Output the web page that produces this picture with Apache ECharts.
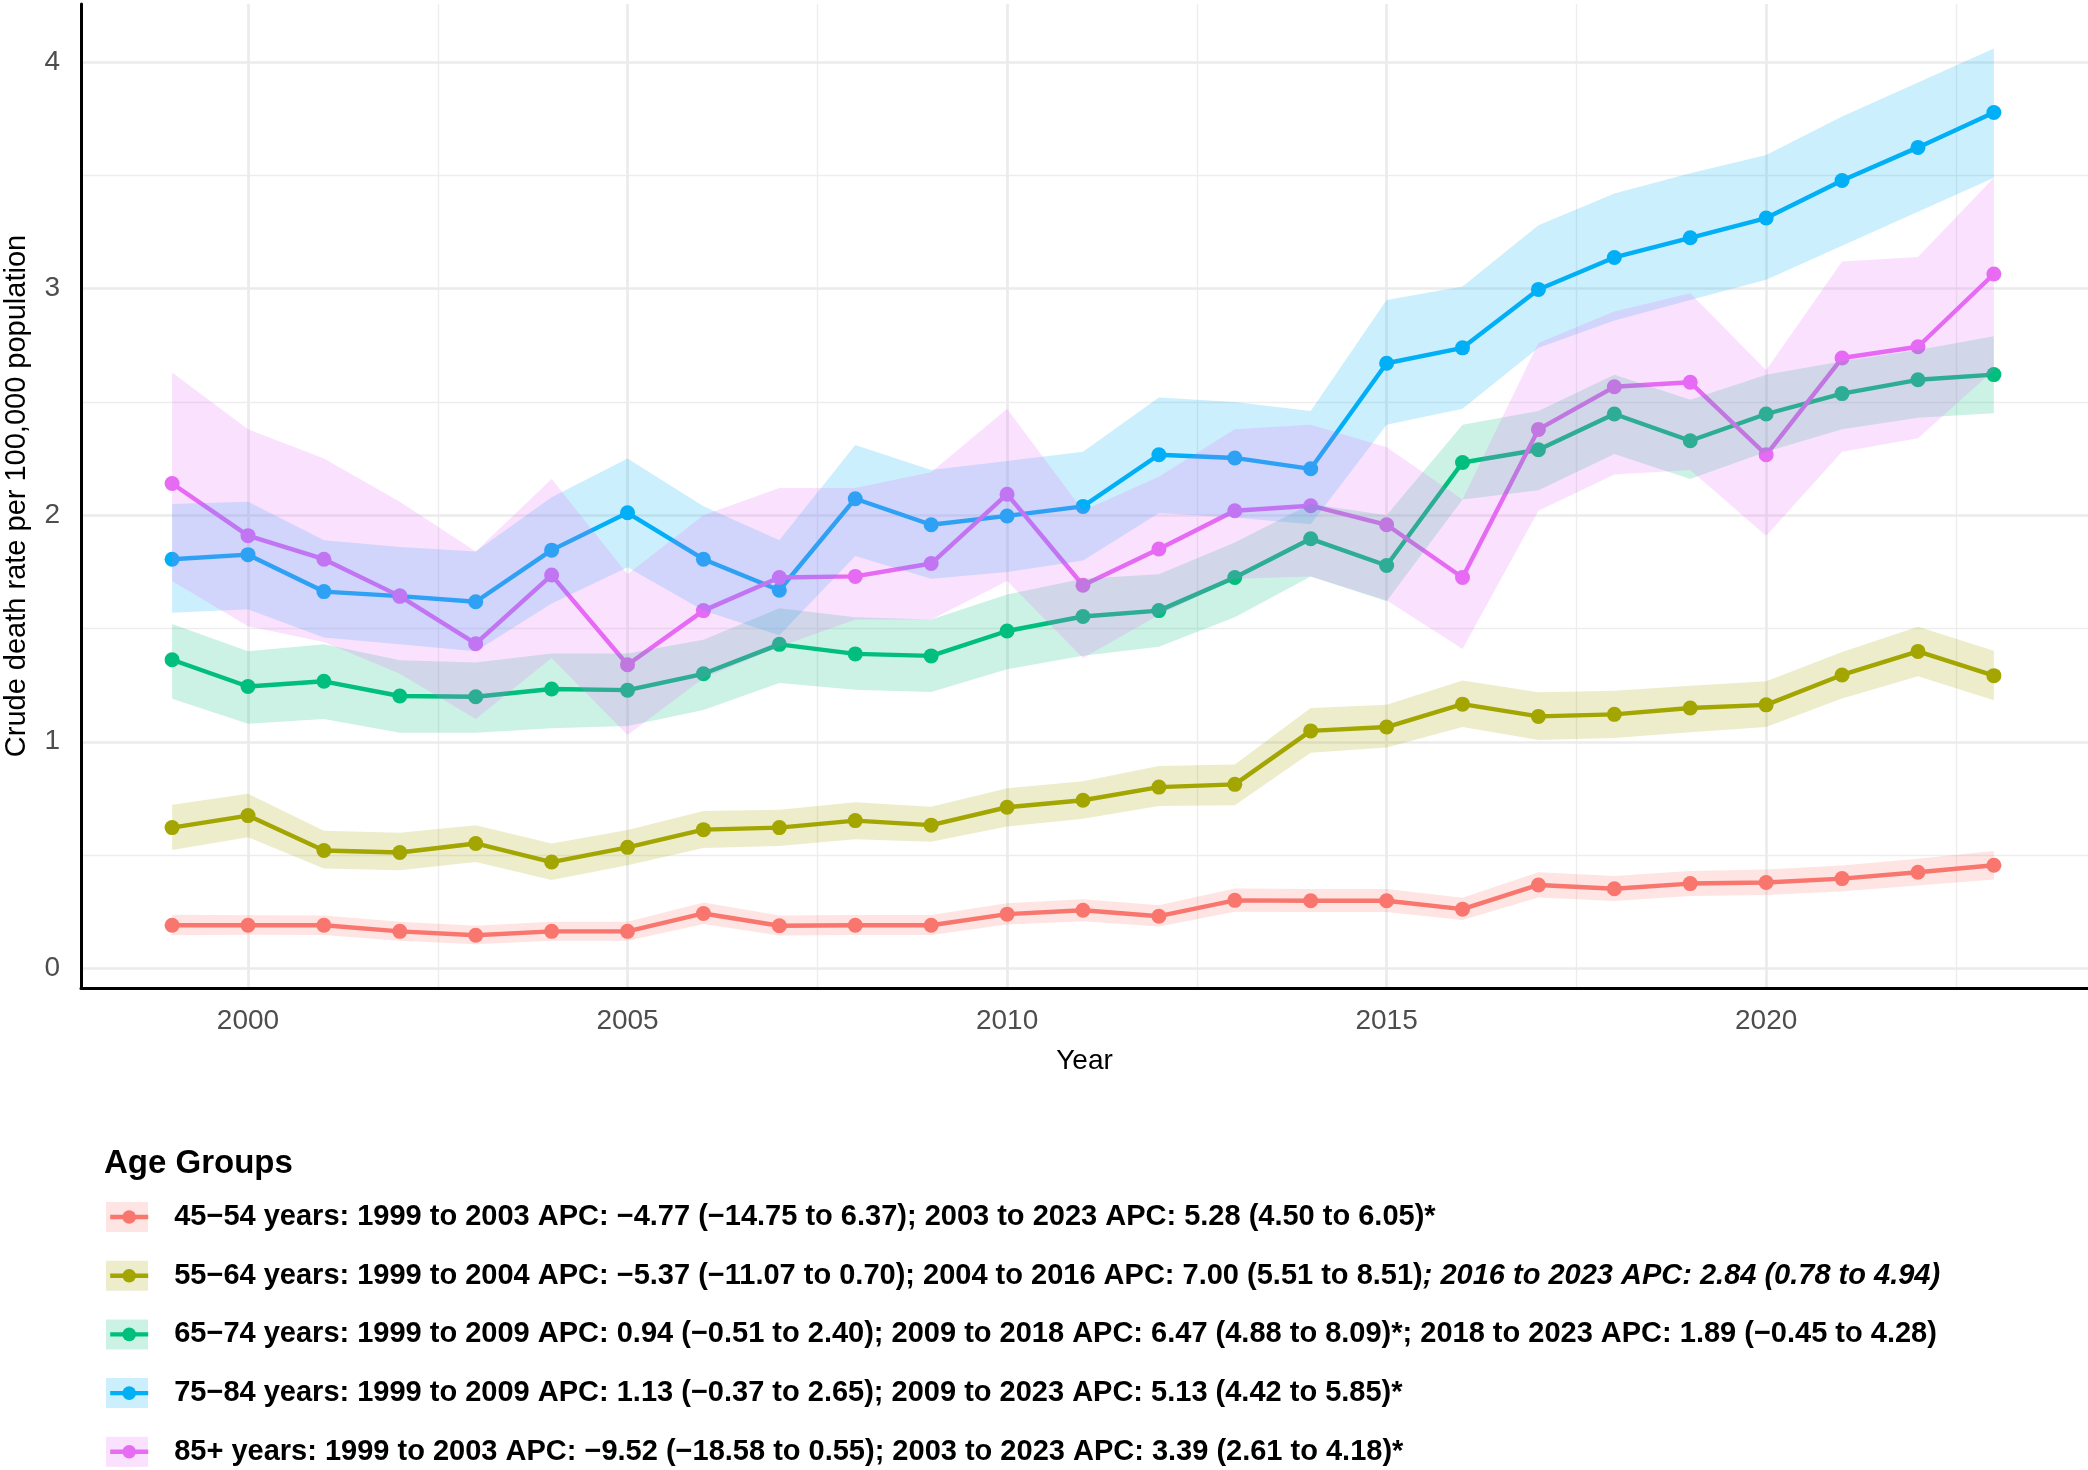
<!DOCTYPE html>
<html>
<head>
<meta charset="utf-8">
<script src="https://cdn.jsdelivr.net/npm/echarts@6/dist/echarts.min.js"></script>
<style>
html,body{margin:0;padding:0;background:#ffffff;}
#chart{width:2088px;height:1470px;}
</style>
</head>
<body>
<div id="chart"></div>
<script>
// ---------------- data ----------------
const years = [1999,2000,2001,2002,2003,2004,2005,2006,2007,2008,2009,2010,2011,2012,2013,2014,2015,2016,2017,2018,2019,2020,2021,2022,2023];

const ageGroups = ['45−54 years','55−64 years','65−74 years','75−84 years','85+ years'];

const legendLabels = [
  '45−54 years: 1999 to 2003 APC: −4.77 (−14.75 to 6.37); 2003 to 2023 APC: 5.28 (4.50 to 6.05)*',
  '55−64 years: 1999 to 2004 APC: −5.37 (−11.07 to 0.70); 2004 to 2016 APC: 7.00 (5.51 to 8.51)',
  '65−74 years: 1999 to 2009 APC: 0.94 (−0.51 to 2.40); 2009 to 2018 APC: 6.47 (4.88 to 8.09)*; 2018 to 2023 APC: 1.89 (−0.45 to 4.28)',
  '75−84 years: 1999 to 2009 APC: 1.13 (−0.37 to 2.65); 2009 to 2023 APC: 5.13 (4.42 to 5.85)*',
  '85+ years: 1999 to 2003 APC: −9.52 (−18.58 to 0.55); 2003 to 2023 APC: 3.39 (2.61 to 4.18)*'
];
const legendItalic = ['', '; 2016 to 2023 APC: 2.84 (0.78 to 4.94)', '', '', ''];

const rate45 = [0.19,0.19,0.19,0.163,0.146,0.163,0.163,0.242,0.188,0.19,0.19,0.239,0.256,0.23,0.30,0.298,0.298,0.261,0.368,0.351,0.374,0.379,0.396,0.424,0.455];
const lo45   = [0.146,0.148,0.147,0.122,0.106,0.122,0.122,0.196,0.145,0.147,0.147,0.193,0.208,0.184,0.250,0.248,0.248,0.213,0.313,0.297,0.319,0.324,0.340,0.366,0.392];
const hi45   = [0.236,0.234,0.233,0.206,0.188,0.206,0.206,0.290,0.233,0.235,0.235,0.287,0.305,0.278,0.352,0.350,0.350,0.311,0.424,0.407,0.430,0.436,0.454,0.484,0.518];

const rate55 = [0.621,0.674,0.52,0.511,0.551,0.469,0.534,0.612,0.621,0.652,0.632,0.711,0.742,0.80,0.812,1.048,1.065,1.166,1.112,1.121,1.149,1.163,1.295,1.399,1.292];
const lo55   = [0.522,0.579,0.441,0.433,0.469,0.390,0.455,0.531,0.540,0.570,0.559,0.626,0.660,0.716,0.720,0.952,0.975,1.065,1.008,1.017,1.042,1.065,1.191,1.289,1.183];
const hi55   = [0.722,0.770,0.607,0.598,0.632,0.551,0.610,0.694,0.700,0.733,0.713,0.795,0.826,0.893,0.900,1.149,1.163,1.270,1.219,1.225,1.247,1.267,1.396,1.508,1.402];

const rate65 = [1.362,1.244,1.267,1.202,1.199,1.233,1.228,1.30,1.43,1.388,1.379,1.489,1.553,1.579,1.725,1.896,1.778,2.233,2.289,2.447,2.329,2.447,2.537,2.598,2.621];
const lo65   = [1.19,1.08,1.10,1.04,1.04,1.06,1.07,1.14,1.26,1.23,1.22,1.32,1.38,1.42,1.55,1.73,1.62,2.07,2.11,2.27,2.16,2.28,2.38,2.43,2.45];
const hi65   = [1.52,1.40,1.43,1.36,1.35,1.39,1.39,1.45,1.59,1.55,1.54,1.65,1.72,1.74,1.88,2.05,2.00,2.40,2.46,2.62,2.51,2.62,2.68,2.73,2.79];

const rate75 = [1.806,1.826,1.663,1.643,1.618,1.846,2.011,1.806,1.669,2.073,1.958,1.997,2.039,2.267,2.253,2.205,2.671,2.739,2.997,3.138,3.225,3.312,3.478,3.624,3.778];
const lo75   = [1.57,1.585,1.46,1.43,1.40,1.61,1.77,1.58,1.47,1.82,1.72,1.75,1.80,2.01,1.99,1.96,2.40,2.47,2.74,2.86,2.95,3.04,3.19,3.34,3.49];
const hi75   = [2.05,2.06,1.89,1.86,1.84,2.08,2.25,2.04,1.89,2.31,2.20,2.24,2.28,2.52,2.50,2.46,2.95,3.01,3.28,3.42,3.51,3.59,3.76,3.91,4.06];

const rate85 = [2.14,1.91,1.806,1.643,1.433,1.736,1.34,1.579,1.725,1.73,1.787,2.093,1.691,1.851,2.02,2.042,1.958,1.725,2.379,2.567,2.587,2.267,2.694,2.744,3.065];
const lo85   = [1.71,1.51,1.44,1.30,1.10,1.37,1.03,1.28,1.42,1.54,1.54,1.71,1.37,1.56,1.72,1.73,1.625,1.41,2.02,2.18,2.20,1.91,2.28,2.34,2.64];
const hi85   = [2.63,2.38,2.25,2.06,1.84,2.16,1.74,2.00,2.12,2.12,2.19,2.47,2.02,2.17,2.38,2.40,2.30,2.07,2.76,2.90,2.98,2.64,3.12,3.14,3.49];

const xTicks = [2000,2005,2010,2015,2020];
const xMinorTicks = [2002.5,2007.5,2012.5,2017.5,2022.5];
const yTicks = [0,1,2,3,4];
const yMinorTicks = [0.5,1.5,2.5,3.5];

// ---------------- styling ----------------
const FONT = '"Liberation Sans", Arial, sans-serif';
const colors = ['#F8766D','#A3A500','#00BF7D','#00B0F6','#E76BF3'];
const fills  = ['rgba(248,118,109,0.2)','rgba(163,165,0,0.2)','rgba(0,191,125,0.2)','rgba(0,176,246,0.2)','rgba(231,107,243,0.2)'];
const rates = [rate45, rate55, rate65, rate75, rate85];
const los = [lo45, lo55, lo65, lo75, lo85];
const his = [hi45, hi55, hi65, hi75, hi85];

const X_MIN = 1997.8, X_MAX = 2024.24, Y_MIN = -0.087, Y_MAX = 4.257;
const LEG_TOP = 1202, LEG_STEP = 58.7;

const chart = echarts.init(document.getElementById('chart'), null, {renderer: 'canvas'});

const lineSeries = ageGroups.map((name, g) => ({
  type: 'line',
  name: name,
  xAxisIndex: 0, yAxisIndex: 0,
  data: years.map((y, i) => [y, rates[g][i]]),
  color: colors[g],
  lineStyle: {width: 4.4, color: colors[g]},
  itemStyle: {color: colors[g], borderWidth: 0},
  symbol: 'circle',
  symbolSize: 15,
  showSymbol: true,
  z: 2,
  silent: true
}));

const ribbonSeries = ageGroups.map((name, g) => ({
  type: 'custom',
  name: name + ' CI',
  coordinateSystem: 'cartesian2d',
  xAxisIndex: 0, yAxisIndex: 0,
  data: years.map((y, i) => [y, los[g][i], his[g][i]]),
  encode: {x: 0, y: [1, 2]},
  z: 3,
  silent: true,
  renderItem: function (params, api) {
    if (params.dataIndex !== 0) return null;
    const pts = [];
    for (let i = 0; i < years.length; i++) pts.push(api.coord([years[i], his[g][i]]));
    for (let i = years.length - 1; i >= 0; i--) pts.push(api.coord([years[i], los[g][i]]));
    return {type: 'polygon', shape: {points: pts}, style: {fill: fills[g], stroke: null}};
  }
}));

const keyRects = ageGroups.map((name, g) => ({
  type: 'rect',
  left: 106,
  top: LEG_TOP + LEG_STEP * g,
  shape: {width: 42, height: 30},
  style: {fill: fills[g]},
  z: 0
}));

const option = {
  animation: false,
  backgroundColor: '#ffffff',
  textStyle: {fontFamily: FONT},
  grid: {left: 81, right: 0, top: 4, bottom: 482, containLabel: false, outerBoundsMode: 'none'},
  title: {
    text: 'Age Groups',
    left: 104, top: 1147, padding: 0,
    textStyle: {fontFamily: FONT, fontSize: 33, fontWeight: 'bold', color: '#000000'}
  },
  legend: {
    orient: 'vertical',
    left: 108, top: LEG_TOP, padding: 0,
    itemGap: LEG_STEP - 30,
    itemWidth: 38, itemHeight: 17,
    selectedMode: false,
    data: ageGroups,
    lineStyle: {width: 4.4},
    itemStyle: {borderWidth: 0},
    formatter: function (name) {
      const i = ageGroups.indexOf(name);
      let s = '{sp| }{n|' + legendLabels[i] + '}';
      if (legendItalic[i]) s += '{it|' + legendItalic[i] + '}';
      return s;
    },
    textStyle: {
      fontFamily: FONT, fontSize: 29, fontWeight: 'bold', color: '#000000', lineHeight: 30,
      rich: {
        sp: {width: 21, fontSize: 29, lineHeight: 30},
        n: {fontFamily: FONT, fontSize: 29, fontWeight: 'bold', color: '#000000', lineHeight: 30},
        it: {fontFamily: FONT, fontSize: 29, fontWeight: 'bold', fontStyle: 'italic', color: '#000000', lineHeight: 30}
      }
    }
  },
  graphic: keyRects,
  xAxis: [
    {
      type: 'value', min: X_MIN, max: X_MAX,
      name: 'Year', nameLocation: 'middle', nameGap: 59,
      nameTextStyle: {fontFamily: FONT, fontSize: 28, color: '#000000'},
      axisLine: {show: true, onZero: false, lineStyle: {color: '#000000', width: 3}},
      axisTick: {show: false, customValues: xTicks},
      axisLabel: {customValues: xTicks, fontFamily: FONT, fontSize: 28, color: '#4D4D4D', margin: 19,
                  formatter: v => String(v)},
      splitLine: {show: true, lineStyle: {color: '#EBEBEB', width: 2.7}},
      z: 1
    },
    {
      type: 'value', min: X_MIN, max: X_MAX, position: 'bottom',
      axisLine: {show: false},
      axisTick: {show: false, customValues: xMinorTicks},
      axisLabel: {show: false, customValues: xMinorTicks},
      splitLine: {show: true, lineStyle: {color: '#EDEDED', width: 1.4}},
      z: 0
    }
  ],
  yAxis: [
    {
      type: 'value', min: Y_MIN, max: Y_MAX,
      name: 'Crude death rate per 100,000 population', nameLocation: 'middle', nameGap: 50, nameRotate: 90,
      nameTextStyle: {fontFamily: FONT, fontSize: 29, color: '#000000'},
      axisLine: {show: true, onZero: false, lineStyle: {color: '#000000', width: 3}},
      axisTick: {show: false, customValues: yTicks},
      axisLabel: {customValues: yTicks, fontFamily: FONT, fontSize: 28, color: '#4D4D4D', margin: 21,
                  formatter: v => String(v)},
      splitLine: {show: true, lineStyle: {color: '#EBEBEB', width: 2.7}},
      z: 1
    },
    {
      type: 'value', min: Y_MIN, max: Y_MAX, position: 'left',
      axisLine: {show: false},
      axisTick: {show: false, customValues: yMinorTicks},
      axisLabel: {show: false, customValues: yMinorTicks},
      splitLine: {show: true, lineStyle: {color: '#EDEDED', width: 1.4}},
      z: 0
    }
  ],
  series: lineSeries.concat(ribbonSeries)
};

chart.setOption(option);
</script>
</body>
</html>
